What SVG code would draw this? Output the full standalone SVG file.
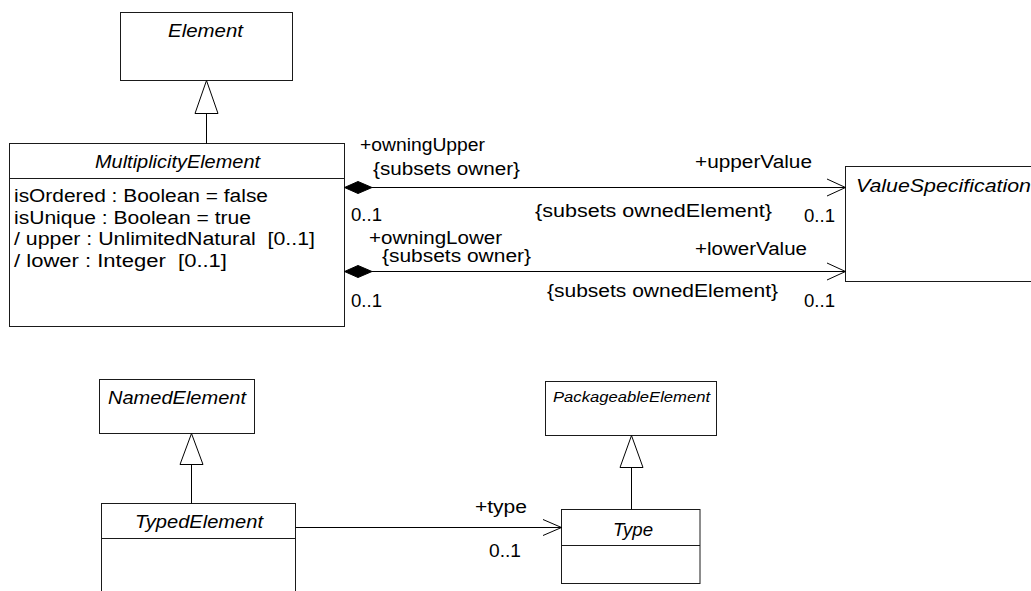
<svg xmlns="http://www.w3.org/2000/svg" width="1031" height="591" viewBox="0 0 1031 591">
<style>
  .box { fill: #ffffff; stroke: #1a1a1a; stroke-width: 1; }
  .div { stroke: #1a1a1a; stroke-width: 1; }
  .ln { stroke: #000000; stroke-width: 1; fill: none; }
  .gen { fill: #ffffff; stroke: #000000; stroke-width: 1; }
  .dia { fill: #000000; stroke: #000000; stroke-width: 1; }
  .t { font-family: "Liberation Sans", Arial, sans-serif; font-size: 18px; fill: #000000; white-space: pre; }
  .ti { font-family: "Liberation Sans", Arial, sans-serif; font-size: 18px; font-style: italic; fill: #000000; }
  .ts { font-family: "Liberation Sans", Arial, sans-serif; font-size: 14px; font-style: italic; fill: #000000; }
</style>
<rect x="0" y="0" width="1031" height="591" fill="#ffffff"/>

<g id="Element">
  <rect class="box" x="120.5" y="12.5" width="172" height="68"/>
  <text class="ti" x="168" y="37" textLength="75" lengthAdjust="spacingAndGlyphs">Element</text>
</g>

<g id="MultiplicityElement">
  <rect class="box" x="9.5" y="143.5" width="335" height="183"/>
  <line class="div" x1="9.5" y1="178.5" x2="344.5" y2="178.5"/>
  <text class="ti" x="95" y="168" textLength="165" lengthAdjust="spacingAndGlyphs">MultiplicityElement</text>
  <text class="t" x="14" y="202" textLength="254" lengthAdjust="spacingAndGlyphs">isOrdered : Boolean = false</text>
  <text class="t" x="14" y="223.5" textLength="237" lengthAdjust="spacingAndGlyphs">isUnique : Boolean = true</text>
  <text class="t" x="14" y="245" textLength="301" lengthAdjust="spacingAndGlyphs">/ upper : UnlimitedNatural  [0..1]</text>
  <text class="t" x="14" y="267" textLength="213" lengthAdjust="spacingAndGlyphs">/ lower : Integer  [0..1]</text>
</g>

<g id="ValueSpecification">
  <rect class="box" x="845.5" y="166.5" width="200" height="115"/>
  <text class="ti" x="856" y="191.5" textLength="175" lengthAdjust="spacingAndGlyphs">ValueSpecification</text>
</g>

<g id="NamedElement">
  <rect class="box" x="99.5" y="379.5" width="155" height="54"/>
  <text class="ti" x="108" y="404" textLength="138" lengthAdjust="spacingAndGlyphs">NamedElement</text>
</g>

<g id="TypedElement">
  <rect class="box" x="101.5" y="503.5" width="194" height="100"/>
  <line class="div" x1="101.5" y1="538.5" x2="295.5" y2="538.5"/>
  <text class="ti" x="135" y="528" textLength="128" lengthAdjust="spacingAndGlyphs">TypedElement</text>
</g>

<g id="PackageableElement">
  <rect class="box" x="545.5" y="381.5" width="171" height="54"/>
  <text class="ts" x="553" y="402" textLength="157" lengthAdjust="spacingAndGlyphs">PackageableElement</text>
</g>

<g id="Type">
  <rect class="box" x="561.5" y="509.5" width="138.5" height="74"/>
  <line class="div" x1="561.5" y1="545.5" x2="700" y2="545.5"/>
  <text class="ti" x="613" y="536" textLength="40" lengthAdjust="spacingAndGlyphs">Type</text>
</g>

<g id="connectors">
  <!-- MultiplicityElement -> Element generalization -->
  <line class="ln" x1="206.5" y1="113.5" x2="206.5" y2="143.5"/>
  <polygon class="gen" points="206.5,80.5 195,113.5 218,113.5"/>

  <!-- upperValue association -->
  <line class="ln" x1="372" y1="187.5" x2="845.5" y2="187.5"/>
  <polygon class="dia" points="344.5,187.5 358,181.5 372,187.5 358,193.5"/>
  <polyline class="ln" points="827,179 845.5,187.5 827,196"/>
  <text class="t" x="360" y="151" textLength="125" lengthAdjust="spacingAndGlyphs">+owningUpper</text>
  <text class="t" x="373" y="175" textLength="147" lengthAdjust="spacingAndGlyphs">{subsets owner}</text>
  <text class="t" x="351" y="221" textLength="31" lengthAdjust="spacingAndGlyphs">0..1</text>
  <text class="t" x="695" y="168" textLength="117" lengthAdjust="spacingAndGlyphs">+upperValue</text>
  <text class="t" x="535" y="217" textLength="237" lengthAdjust="spacingAndGlyphs">{subsets ownedElement}</text>
  <text class="t" x="804" y="221.5" textLength="31" lengthAdjust="spacingAndGlyphs">0..1</text>

  <!-- lowerValue association -->
  <line class="ln" x1="372" y1="271.5" x2="845.5" y2="271.5"/>
  <polygon class="dia" points="344.5,271.5 358,265.5 372,271.5 358,277.5"/>
  <polyline class="ln" points="827,263 845.5,271.5 827,280"/>
  <text class="t" x="369" y="244" textLength="133" lengthAdjust="spacingAndGlyphs">+owningLower</text>
  <text class="t" x="382" y="262" textLength="149" lengthAdjust="spacingAndGlyphs">{subsets owner}</text>
  <text class="t" x="351" y="306.5" textLength="31" lengthAdjust="spacingAndGlyphs">0..1</text>
  <text class="t" x="695" y="255" textLength="112" lengthAdjust="spacingAndGlyphs">+lowerValue</text>
  <text class="t" x="547" y="297" textLength="231" lengthAdjust="spacingAndGlyphs">{subsets ownedElement}</text>
  <text class="t" x="804" y="307" textLength="31" lengthAdjust="spacingAndGlyphs">0..1</text>

  <!-- TypedElement -> NamedElement generalization -->
  <line class="ln" x1="191.5" y1="464.5" x2="191.5" y2="503.5"/>
  <polygon class="gen" points="191.5,433.5 180,464.5 203,464.5"/>

  <!-- Type -> PackageableElement generalization -->
  <line class="ln" x1="631.5" y1="467.5" x2="631.5" y2="509.5"/>
  <polygon class="gen" points="631.5,435.5 620,467.5 643,467.5"/>

  <!-- type association -->
  <line class="ln" x1="295.5" y1="527.5" x2="561.5" y2="527.5"/>
  <polyline class="ln" points="543,519.5 561.5,527.5 543,535.5"/>
  <text class="t" x="475" y="513" textLength="52" lengthAdjust="spacingAndGlyphs">+type</text>
  <text class="t" x="489" y="556.5" textLength="32" lengthAdjust="spacingAndGlyphs">0..1</text>
</g>
</svg>
